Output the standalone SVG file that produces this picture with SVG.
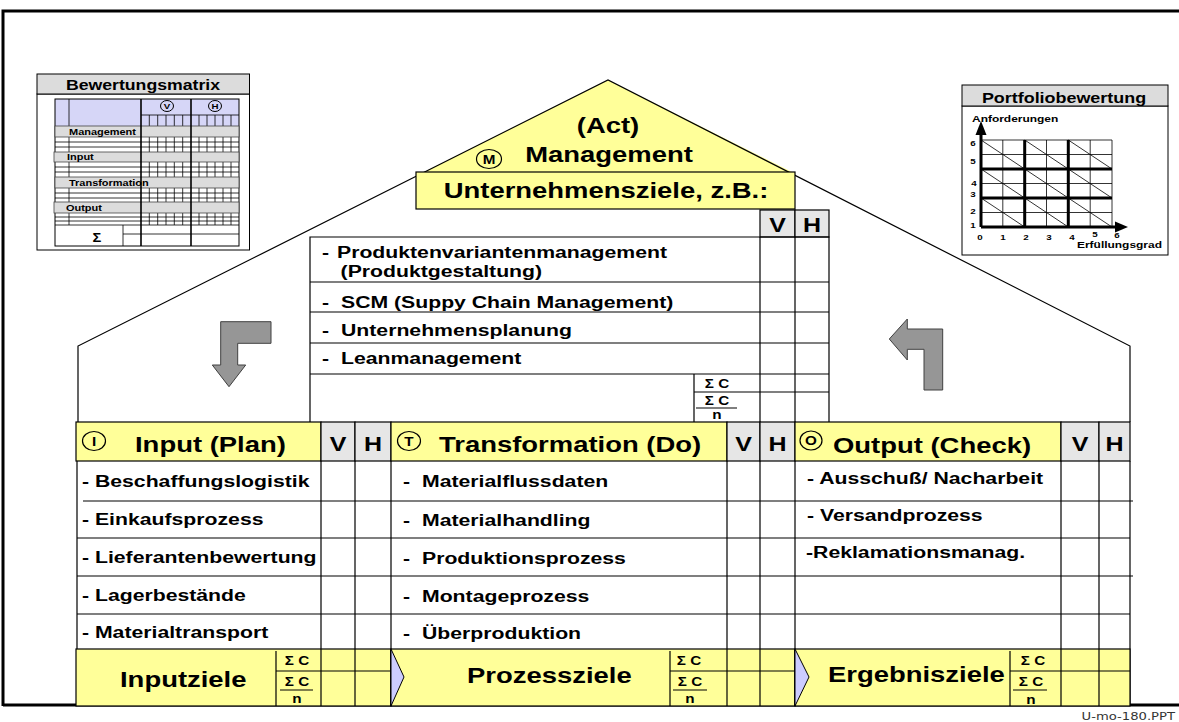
<svg xmlns="http://www.w3.org/2000/svg" width="1179" height="722" viewBox="0 0 1179 722">
<style>
text{font-family:"Liberation Sans",Arial,Helvetica,sans-serif;font-weight:bold;fill:#000}
.h{font-size:22.5px}
.l{font-size:17.4px}
.vh{font-size:20.5px}
.s{font-size:12.5px}
.c{font-size:12.5px}
.m{text-anchor:middle}
.ln{stroke:#000;stroke-width:1.2;fill:none}
.tn{stroke:#000;stroke-width:0.8;fill:none}
.tk{stroke:#000;stroke-width:1.6;fill:none}
.y{fill:#ffff99;stroke:#000;stroke-width:1.2}
.g{fill:#e6e6e6;stroke:#000;stroke-width:1.2}
.bar{fill:#dcdcdc;stroke:#444;stroke-width:0.8}
.ci{fill:none;stroke:#000;stroke-width:1.2}
.arr{fill:#969696;stroke:#404040;stroke-width:1}
.chev{fill:#ccccff;stroke:#000;stroke-width:1}
</style>
<rect width="1179" height="722" fill="#fff"/>

<g id="frame">
<path d="M3 706V11H1179" fill="none" stroke="#000" stroke-width="3"/>
<path d="M3 705H1179" fill="none" stroke="#000" stroke-width="3"/>
<text transform="matrix(1.22 0 0 1 1175 720)" style="font-family:'DejaVu Sans',Verdana,sans-serif;font-weight:normal;font-size:10.8px;text-anchor:end;fill:#333">U-mo-180.PPT</text>
</g>

<g id="roof">
<polygon points="608,80 424,172 792,172" fill="#ffff99"/>
<polyline class="ln" points="78,422 78,346 608,80 1130,346 1130,422"/>
</g>

<g id="management">
<text class="h m" transform="matrix(1.22 0 0 1 608 133)">(Act)</text>
<text class="h m" transform="matrix(1.22 0 0 1 609 162)">Management</text>
<ellipse class="ci" cx="489" cy="159" rx="12.5" ry="9.5"/>
<text class="s m" transform="matrix(1.22 0 0 1 489 163.5)">M</text>
</g>

<g id="unternehmensziele">
<rect class="y" x="416" y="172" width="379" height="37"/>
<text class="h m" transform="matrix(1.22 0 0 1 606 198)">Unternehmensziele, z.B.:</text>
<rect class="g" x="760" y="210" width="35" height="27"/>
<rect class="g" x="795" y="210" width="34" height="27"/>
<text class="vh m" transform="matrix(1.22 0 0 1 777.5 232)">V</text>
<text class="vh m" transform="matrix(1.22 0 0 1 812 232)">H</text>
<path class="ln" d="M310 422V237H829V422M760 237V422M795 237V422M310 282H829M310 312H829M310 343H829M310 374H829M694 374V422M694 392H829"/>
<path class="ln" d="M696 408H737"/>
<text class="l" transform="matrix(1.22 0 0 1 322 258)">-</text>
<text class="l" transform="matrix(1.22 0 0 1 337 258)">Produktenvariantenmanagement</text>
<text class="l" transform="matrix(1.22 0 0 1 340.6 277)">(Produktgestaltung)</text>
<text class="l" transform="matrix(1.22 0 0 1 322 308)">-</text>
<text class="l" transform="matrix(1.22 0 0 1 341 308)">SCM (Suppy Chain Management)</text>
<text class="l" transform="matrix(1.22 0 0 1 322 336)">-</text>
<text class="l" transform="matrix(1.22 0 0 1 341 336)">Unternehmensplanung</text>
<text class="l" transform="matrix(1.22 0 0 1 322 364)">-</text>
<text class="l" transform="matrix(1.22 0 0 1 341 364)">Leanmanagement</text>
<text class="c m" transform="matrix(1.22 0 0 1 717 388)">Σ C</text>
<text class="c m" transform="matrix(1.22 0 0 1 717 405)">Σ C</text>
<text class="c m" transform="matrix(1.22 0 0 1 717 419)">n</text>
</g>

<g id="input">
<rect class="y" x="76" y="422" width="245" height="39"/>
<rect class="g" x="321" y="422" width="34" height="39"/>
<rect class="g" x="355" y="422" width="36" height="39"/>
<ellipse class="ci" cx="94" cy="441" rx="11.5" ry="9.5"/>
<text class="s m" transform="matrix(1.22 0 0 1 94 445.5)">I</text>
<text class="h" transform="matrix(1.22 0 0 1 135 452)">Input (Plan)</text>
<text class="vh m" transform="matrix(1.22 0 0 1 338 451)">V</text>
<text class="vh m" transform="matrix(1.22 0 0 1 373 451)">H</text>
<path class="ln" d="M77 461V649M83 501H391M77 538H391M77 576H391M77 614H391M321 461V706M355 461V706"/>
<text class="l" transform="matrix(1.22 0 0 1 82 487)">- Beschaffungslogistik</text>
<text class="l" transform="matrix(1.22 0 0 1 82 525)">- Einkaufsprozess</text>
<text class="l" transform="matrix(1.22 0 0 1 82 563)">- Lieferantenbewertung</text>
<text class="l" transform="matrix(1.22 0 0 1 82 601)">- Lagerbestände</text>
<text class="l" transform="matrix(1.22 0 0 1 82 638)">- Materialtransport</text>
<rect class="y" x="76" y="649" width="315" height="57"/>
<path class="ln" d="M321 649V706M355 649V706M276 651V706M276 671H391M280 690H313"/>
<text class="h" transform="matrix(1.22 0 0 1 120 687)">Inputziele</text>
<text class="c m" transform="matrix(1.22 0 0 1 297 665)">Σ C</text>
<text class="c m" transform="matrix(1.22 0 0 1 297 686)">Σ C</text>
<text class="c m" transform="matrix(1.22 0 0 1 297 703)">n</text>
</g>

<g id="transformation">
<rect class="y" x="391" y="422" width="336" height="39"/>
<rect class="g" x="727" y="422" width="33" height="39"/>
<rect class="g" x="760" y="422" width="35" height="39"/>
<ellipse class="ci" cx="409" cy="441" rx="11.5" ry="9.5"/>
<text class="s m" transform="matrix(1.22 0 0 1 409 445.5)">T</text>
<text class="h" transform="matrix(1.22 0 0 1 439 452)">Transformation (Do)</text>
<text class="vh m" transform="matrix(1.22 0 0 1 743.5 451)">V</text>
<text class="vh m" transform="matrix(1.22 0 0 1 777.5 451)">H</text>
<path class="ln" d="M391 461V706M391 501H795M391 538H795M391 576H795M391 614H795M727 461V706M760 461V706"/>
<text class="l" transform="matrix(1.22 0 0 1 403 487)">-</text>
<text class="l" transform="matrix(1.22 0 0 1 422 487)">Materialflussdaten</text>
<text class="l" transform="matrix(1.22 0 0 1 403 526)">-</text>
<text class="l" transform="matrix(1.22 0 0 1 422 526)">Materialhandling</text>
<text class="l" transform="matrix(1.22 0 0 1 403 564)">-</text>
<text class="l" transform="matrix(1.22 0 0 1 422 564)">Produktionsprozess</text>
<text class="l" transform="matrix(1.22 0 0 1 403 602)">-</text>
<text class="l" transform="matrix(1.22 0 0 1 422 602)">Montageprozess</text>
<text class="l" transform="matrix(1.22 0 0 1 403 639)">-</text>
<text class="l" transform="matrix(1.22 0 0 1 422 639)">Überproduktion</text>
<rect class="y" x="391" y="649" width="404" height="57"/>
<path class="ln" d="M727 649V706M760 649V706M670 651V706M670 671H795M673 690H707"/>
<polygon class="chev" points="391,649 404,677 391,706"/>
<text class="h" transform="matrix(1.22 0 0 1 467 683)">Prozessziele</text>
<text class="c m" transform="matrix(1.22 0 0 1 689 665)">Σ C</text>
<text class="c m" transform="matrix(1.22 0 0 1 690 686)">Σ C</text>
<text class="c m" transform="matrix(1.22 0 0 1 690 703)">n</text>
</g>

<g id="output">
<rect class="y" x="795" y="422" width="266" height="39"/>
<rect class="g" x="1061" y="422" width="38" height="39"/>
<rect class="g" x="1099" y="422" width="31" height="39"/>
<ellipse class="ci" cx="811" cy="440.5" rx="11" ry="9.5"/>
<text class="s m" transform="matrix(1.22 0 0 1 811 445)">O</text>
<text class="h" transform="matrix(1.22 0 0 1 833 453)">Output (Check)</text>
<text class="vh m" transform="matrix(1.22 0 0 1 1080 451)">V</text>
<text class="vh m" transform="matrix(1.22 0 0 1 1114.5 451)">H</text>
<path class="ln" d="M795 461V706M1130 461V706M795 501H1133M795 538H1130M795 576H1133M795 614H1130M1061 461V706M1099 461V706"/>
<text class="l" transform="matrix(1.22 0 0 1 807 484)">- Ausschuß/ Nacharbeit</text>
<text class="l" transform="matrix(1.22 0 0 1 807 521)">- Versandprozess</text>
<text class="l" transform="matrix(1.22 0 0 1 806 558)">-Reklamationsmanag.</text>
<rect class="y" x="795" y="649" width="335" height="57"/>
<path class="ln" d="M1061 649V706M1099 649V706M1010 651V706M1010 671H1130M1013 690H1047"/>
<polygon class="chev" points="795,649 809,677 795,706"/>
<text class="h" transform="matrix(1.22 0 0 1 828 682)">Ergebnisziele</text>
<text class="c m" transform="matrix(1.22 0 0 1 1033 665)">Σ C</text>
<text class="c m" transform="matrix(1.22 0 0 1 1031 686)">Σ C</text>
<text class="c m" transform="matrix(1.22 0 0 1 1031 704)">n</text>
</g>

<g id="connectors">
<polygon class="arr" points="220.7,321.7 271,321.7 271,343.3 237.7,343.3 237.7,365 245.7,365 229,386.7 212.3,365 220.7,365"/>
<polygon class="arr" points="942.7,329 907.3,329 907.3,319 889.3,339 907.3,360 907.3,349.3 924,349.3 924,390 942.7,390"/>
</g>

<g id="bewertungsmatrix">
<rect x="37" y="94" width="212.5" height="156" fill="#fff" stroke="#000" stroke-width="1"/>
<rect x="37" y="74" width="212.5" height="20" fill="#dcdcdc" stroke="#000" stroke-width="1"/>
<text transform="matrix(1.22 0 0 1 143 90)" style="font-size:14.5px;text-anchor:middle">Bewertungsmatrix</text>
<rect x="55" y="99" width="184" height="27" fill="#d6d6f7"/>
<rect x="55" y="99" width="184" height="147" fill="none" stroke="#000" stroke-width="1"/>
<path class="tn" d="M141 115H239M55 142H239M55 147H239M55 167H239M55 172H239M55 193H239M55 198H239M55 217H239M55 221H239M55 225H239M123 234H239M123 225V246M69 99V225"/>
<path class="tn" d="M149.3 115V126M157.7 115V126M166 115V126M174.3 115V126M182.7 115V126M199 115V126M207 115V126M215 115V126M223 115V126M231 115V126
M149.3 137V152M157.7 137V152M166 137V152M174.3 137V152M182.7 137V152M199 137V152M207 137V152M215 137V152M223 137V152M231 137V152
M149.3 162V177M157.7 162V177M166 162V177M174.3 162V177M182.7 162V177M199 162V177M207 162V177M215 162V177M223 162V177M231 162V177
M149.3 188V202M157.7 188V202M166 188V202M174.3 188V202M182.7 188V202M199 188V202M207 188V202M215 188V202M223 188V202M231 188V202
M149.3 213V225M157.7 213V225M166 213V225M174.3 213V225M182.7 213V225M199 213V225M207 213V225M215 213V225M223 213V225M231 213V225"/>
<rect class="bar" x="55" y="126" width="184" height="11"/>
<rect class="bar" x="54" y="152" width="185" height="10"/>
<rect class="bar" x="55" y="177" width="184" height="11"/>
<rect class="bar" x="54" y="202" width="185" height="11"/>
<path class="tk" d="M141 99V246M191 99V246"/>
<ellipse cx="167" cy="106" rx="6.5" ry="5.5" fill="none" stroke="#000" stroke-width="1"/>
<ellipse cx="215" cy="106" rx="6.5" ry="5.5" fill="none" stroke="#000" stroke-width="1"/>
<text transform="matrix(1.22 0 0 1 167 109)" style="font-size:8px;text-anchor:middle">V</text>
<text transform="matrix(1.22 0 0 1 215 109)" style="font-size:8px;text-anchor:middle">H</text>
<text transform="matrix(1.22 0 0 1 69 135)" style="font-size:9px">Management</text>
<text transform="matrix(1.22 0 0 1 67 160)" style="font-size:9px">Input</text>
<text transform="matrix(1.22 0 0 1 69 186)" style="font-size:9px">Transformation</text>
<text transform="matrix(1.22 0 0 1 66 211)" style="font-size:9px">Output</text>
<text transform="matrix(1.22 0 0 1 97 242)" style="font-size:12px;text-anchor:middle">Σ</text>
</g>

<g id="portfoliobewertung">
<rect x="962" y="106" width="206" height="149" fill="#fff" stroke="#000" stroke-width="1"/>
<rect x="962" y="85" width="206" height="21" fill="#dcdcdc" stroke="#000" stroke-width="1"/>
<text transform="matrix(1.22 0 0 1 1064 103)" style="font-size:14.7px;text-anchor:middle">Portfoliobewertung</text>
<text transform="matrix(1.22 0 0 1 972 122)" style="font-size:9.8px">Anforderungen</text>
<text transform="matrix(1.22 0 0 1 1077 248)" style="font-size:9.8px">Erfüllungsgrad</text>
<path class="tn" d="M1002.8 140V227M1046.5 140V227M1090.2 140V227M1112 140V227M981 140H1112M981 154.5H1112M981 183.5H1112M981 212.5H1112"/>
<path class="tn" d="M981 140L1024.7 169M1024.7 140L1068.3 169M1068.3 140L1112 169M981 169L1024.7 198M1024.7 169L1068.3 198M1068.3 169L1112 198M981 198L1024.7 227M1024.7 198L1068.3 227M1068.3 198L1112 227"/>
<path d="M1024.7 140V227M1068.3 140V227M981 169H1112M981 198H1112M981 227H1118M981 227V132" fill="none" stroke="#000" stroke-width="3"/>
<polygon points="981,121 975.5,135 986.5,135" fill="#000"/>
<polygon points="1128,227 1115,221.5 1115,232.5" fill="#000"/>
<g style="font-size:8px;text-anchor:middle">
<text transform="matrix(1.22 0 0 1 973 146)">6</text>
<text transform="matrix(1.22 0 0 1 973 164)">5</text>
<text transform="matrix(1.22 0 0 1 974 186)">4</text>
<text transform="matrix(1.22 0 0 1 973 197)">3</text>
<text transform="matrix(1.22 0 0 1 973 214)">2</text>
<text transform="matrix(1.22 0 0 1 973 228)">1</text>
<text transform="matrix(1.22 0 0 1 980 240)">0</text>
<text transform="matrix(1.22 0 0 1 1003 240)">1</text>
<text transform="matrix(1.22 0 0 1 1026 240)">2</text>
<text transform="matrix(1.22 0 0 1 1049 240)">3</text>
<text transform="matrix(1.22 0 0 1 1072 240)">4</text>
<text transform="matrix(1.22 0 0 1 1095 237)">5</text>
<text transform="matrix(1.22 0 0 1 1117 238)">6</text>
</g>
</g>
</svg>
